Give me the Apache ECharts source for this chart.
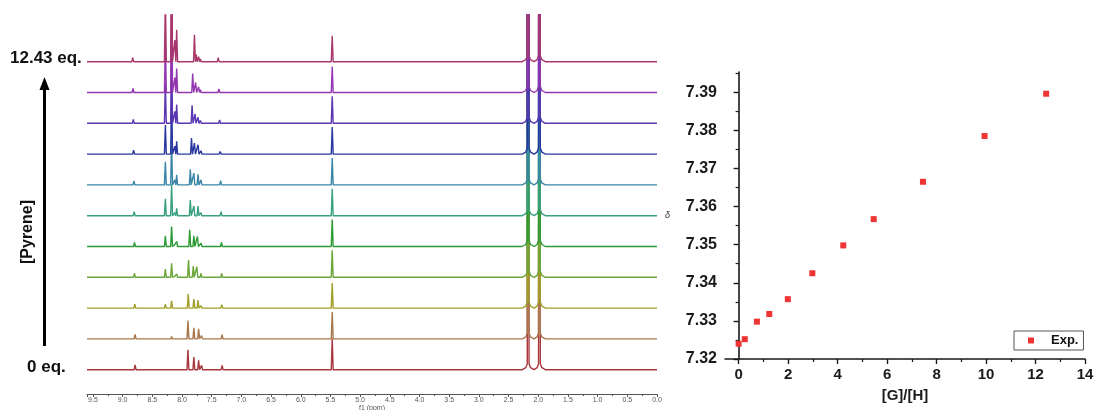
<!DOCTYPE html>
<html>
<head>
<meta charset="utf-8">
<script src="https://cdn.jsdelivr.net/npm/echarts@6/dist/echarts.min.js"></script>
<style>
html,body{margin:0;padding:0;background:#fff;}
#main{width:1096px;height:410px;}
</style>
</head>
<body>
<div id="main"></div>
<script>
// titration points: [G]/[H] and shift of the tracked proton
var ratio = [0, 0.25, 0.74, 1.24, 1.99, 2.98, 4.23, 5.46, 7.45, 9.94, 12.43];
var delta = [7.3240, 7.3252, 7.3298, 7.3318, 7.3357, 7.3425, 7.3498, 7.3567, 7.3665, 7.3785, 7.3896];

var ppmTicks = [0.0, 0.5, 1.0, 1.5, 2.0, 2.5, 3.0, 3.5, 4.0, 4.5, 5.0, 5.5, 6.0, 6.5, 7.0, 7.5, 8.0, 8.5, 9.0, 9.5];
var ghTicks = [0, 2, 4, 6, 8, 10, 12, 14];
var ghMinor = [1, 3, 5, 7, 9, 11, 13];
var deltaTicks = [7.32, 7.33, 7.34, 7.35, 7.36, 7.37, 7.38, 7.39];
var deltaMinor = [7.325, 7.335, 7.345, 7.355, 7.365, 7.375, 7.385, 7.395];

// spectra, bottom (0 eq.) to top (12.43 eq.); heights in px above each baseline
var traceColors = ['#a8383c', '#a8784c', '#a0a028', '#6aa638', '#2c9a34', '#38a080', '#3a86a6', '#2838a0', '#5a36b0', '#9436b0', '#a8386c'];
var pos88 = [8.79, 8.79, 8.795, 8.80, 8.80, 8.805, 8.81, 8.815, 8.82, 8.825, 8.83];
var h88 = [4.7, 4.5, 4, 4, 4, 4, 4, 4, 4, 4, 4];
var hA = [0, 1, 4, 8.3, 10.7, 17, 23, 29, 40, 52, 65];        // 8.28
var hB = [0, 2.3, 7.3, 14, 20, 31, 44, 60, 80, 105, 130];     // 8.175
var hCs = [0, 0, 0, 1, 2, 3, 5, 8, 12, 15, 21.7];             // 8.12
var hC = [0, 0, 1.3, 3.3, 5, 7.3, 10, 12.7, 18.7, 24, 32];    // 8.09
var posD1 = [7.90, 7.90, 7.895, 7.89, 7.87, 7.86, 7.86, 7.84, 7.83, 7.82, 7.79];
var hD1 = [20, 18.3, 14, 17.3, 16.7, 15.7, 15.7, 16, 18, 19, 27];
var posD2 = [7.80, 7.80, 7.80, 7.81, 7.80, 7.80, 7.80, 7.79, 7.78, 7.77, 7.76];
var hD2 = [12.7, 11, 9, 11.3, 10.7, 9.7, 11.7, 11, 9.3, 10, 7];
var posD3 = [7.72, 7.72, 7.73, 7.75, 7.74, 7.73, 7.73, 7.73, 7.73, 7.72, 7.72];
var hD3 = [9.3, 10, 8, 10.7, 10, 9.7, 10.7, 9.3, 6, 5.7, 5];
var posD4 = [7.67, 7.67, 7.68, 7.68, 7.68, 7.68, 7.68, 7.68, 7.69, 7.69, 7.69];
var hD4 = [4.3, 3.3, 2.3, 4, 3.3, 3, 5, 3.3, 2.7, 2.7, 2.7];
var hE = [4.3, 4.3, 3.3, 4, 4, 4, 4.3, 2.7, 3.3, 3.7, 4];     // at delta[i]
var hF = [31, 27, 25, 27, 27, 27, 27, 27, 27, 26, 26];        // 5.47
var hSolv = [1000, 1000];                                     // 2.17 / 1.98, off scale

(function (win) {
    var font = "'Liberation Sans', Arial, sans-serif";
    var base0 = 24.3, step = 30.8;

    var nmr = {
        init: function () {
            this.chart = echarts.init(document.getElementById('main'), null, {renderer: 'canvas'});
            this.chart.setOption(this.getOption());
        },
        peaksOf: function (i) {
            var list = [
                [pos88[i], h88[i]], [8.28, hA[i]], [8.175, hB[i]], [8.12, hCs[i]], [8.09, hC[i]],
                [posD1[i], hD1[i]], [posD2[i], hD2[i]], [posD3[i], hD3[i]], [posD4[i], hD4[i]],
                [delta[i], hE[i]], [5.47, hF[i]], [2.17, hSolv[0], 1], [1.98, hSolv[1], 1]
            ];
            return list.sort(function (a, b) { return b[0] - a[0]; });
        },
        trace: function (i) {
            var b = base0 + step * i;
            var pts = [[9.6, b]];
            var pk = this.peaksOf(i);
            for (var k = 0; k < pk.length; k++) {
                var p = pk[k][0], h = pk[k][1];
                if (h <= 0) continue;
                if (pk[k][2]) {
                    // broad foot under the big solvent lines
                    pts.push([p + 0.1, b], [p + 0.04, b + 2], [p + 0.015, b + 6], [p, b + h],
                             [p - 0.015, b + 6], [p - 0.04, b + 2], [p - 0.1, b]);
                } else {
                    pts.push([p + 0.016, b], [p, b + h], [p - 0.016, b]);
                }
            }
            pts.push([0, b]);
            return pts;
        },
        getOption: function () {
            var series = [];
            for (var i = 0; i < traceColors.length; i++) {
                series.push({
                    type: 'line', name: 'trace' + i, xAxisIndex: 0, yAxisIndex: 0,
                    data: this.trace(i), symbol: 'none', silent: true, clip: true,
                    lineStyle: {color: traceColors[i], width: 1.4}
                });
            }
            var pts = [];
            for (var j = 0; j < ratio.length; j++) pts.push([ratio[j], delta[j]]);
            series.push({
                type: 'scatter', name: 'Exp.', xAxisIndex: 1, yAxisIndex: 1,
                data: pts, symbol: 'rect', symbolSize: 6,
                itemStyle: {color: '#ee3434', opacity: 1}
            });

            var bold = {fontFamily: font, fontWeight: 'bold', fontSize: 15, color: '#1a1a1a'};
            return {
                animation: false,
                backgroundColor: '#fff',
                textStyle: {fontFamily: font},
                grid: [
                    {left: 87, right: 439, top: 15, bottom: 16, outerBoundsMode: 'none', containLabel: false},
                    {left: 725, right: 11, top: 72, bottom: 51, outerBoundsMode: 'none', containLabel: false}
                ],
                legend: {
                    data: ['Exp.'], left: 1014, top: 331, orient: 'vertical',
                    itemWidth: 6, itemHeight: 6, icon: 'rect',
                    itemStyle: {opacity: 1},
                    padding: [2, 5, 2, 14], borderColor: '#555', borderWidth: 1,
                    textStyle: {fontFamily: font, fontWeight: 'bold', fontSize: 13, color: '#111',
                                padding: [0, 0, 0, 12], lineHeight: 15}
                },
                xAxis: [{
                    gridIndex: 0, type: 'value', min: 0, max: 9.6, inverse: true, interval: 0.5,
                    splitLine: {show: false},
                    axisLine: {lineStyle: {color: '#555', width: 1}},
                    axisTick: {length: 3, lineStyle: {color: '#555'}},
                    minorTick: {show: true, splitNumber: 2, length: 2, lineStyle: {color: '#555'}},
                    axisLabel: {
                        fontSize: 7, color: '#555', margin: 3, showMinLabel: true, showMaxLabel: true,
                        customValues: ppmTicks,
                        formatter: function (v) { return v.toFixed(1); }
                    },
                    name: 'f1 (ppm)', nameLocation: 'middle', nameGap: 11, nameMoveOverlap: false,
                    nameTextStyle: {fontSize: 7, color: '#555'}
                }, {
                    gridIndex: 1, type: 'value', min: -0.55, max: 14, position: 'bottom',
                    splitLine: {show: false},
                    axisLine: {lineStyle: {color: '#1a1a1a', width: 1.6}},
                    axisTick: {length: 5, customValues: ghTicks, lineStyle: {color: '#1a1a1a', width: 1.4}},
                    axisLabel: Object.assign({margin: 8, customValues: ghTicks}, bold),
                    name: '[G]/[H]', nameLocation: 'middle', nameGap: 29,
                    nameTextStyle: Object.assign({}, bold, {fontSize: 15})
                }, {
                    gridIndex: 1, type: 'value', min: -0.55, max: 14, position: 'bottom',
                    splitLine: {show: false}, axisLine: {show: false},
                    axisTick: {length: 3, customValues: ghMinor, lineStyle: {color: '#1a1a1a', width: 1.2}},
                    axisLabel: {show: false}
                }],
                yAxis: [{
                    gridIndex: 0, type: 'value', min: 0, max: 379, show: false
                }, {
                    gridIndex: 1, type: 'value', min: 7.32, max: 7.3953, position: 'left',
                    splitLine: {show: false},
                    axisLine: {show: true, lineStyle: {color: '#1a1a1a', width: 1.6}},
                    axisTick: {show: true, length: 5, customValues: deltaTicks, lineStyle: {color: '#1a1a1a', width: 1.4}},
                    axisLabel: Object.assign({margin: 8, customValues: deltaTicks,
                        formatter: function (v) { return v.toFixed(2); }}, bold, {fontSize: 16}),
                    name: 'δ', nameLocation: 'middle', nameGap: 55, nameRotate: 0,
                    nameTextStyle: {fontSize: 9, fontStyle: 'italic', color: '#333'}
                }, {
                    gridIndex: 1, type: 'value', min: 7.32, max: 7.3953, position: 'left',
                    splitLine: {show: false}, axisLine: {show: false},
                    axisTick: {show: true, length: 3, customValues: deltaMinor, lineStyle: {color: '#1a1a1a', width: 1.2}},
                    axisLabel: {show: false}
                }],
                graphic: [
                    {type: 'text', left: 10, top: 50, style: {text: '12.43 eq.', font: 'bold 17px ' + font, fill: '#111'}},
                    {type: 'text', left: 27, top: 359, style: {text: '0 eq.', font: 'bold 17px ' + font, fill: '#111'}},
                    {type: 'text', x: 28, y: 232, rotation: Math.PI / 2,
                     style: {text: '[Pyrene]', font: 'bold 16px ' + font, fill: '#111', align: 'center', verticalAlign: 'middle'}},
                    {type: 'line', shape: {x1: 44.5, y1: 346, x2: 44.5, y2: 88}, style: {stroke: '#000', lineWidth: 3}},
                    {type: 'polygon', shape: {points: [[44.5, 77], [39.5, 90], [49.5, 90]]}, style: {fill: '#000'}}
                ],
                series: series
            };
        }
    };
    nmr.init();
})(window);
</script>
</body>
</html>
